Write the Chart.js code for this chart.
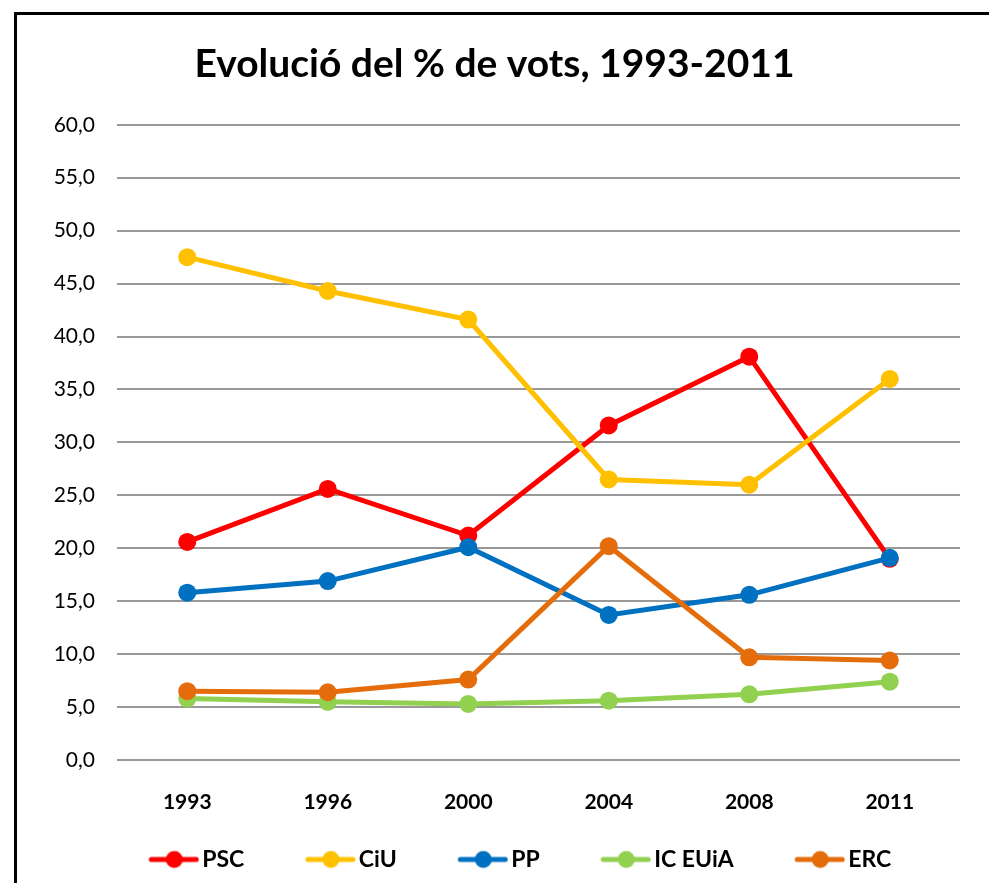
<!DOCTYPE html>
<html>
<head>
<meta charset="utf-8">
<script src="https://cdn.jsdelivr.net/npm/chart.js@4"></script>
<style>
	body { margin: 0; background: #fff; overflow: hidden; }
	#wrap { position: relative; width: 989px; height: 883px; }
	#frame { position: absolute; left: 14px; top: 12px; width: 1000px; height: 900px;
		border-left: 3px solid #000; border-top: 3px solid #000; pointer-events: none; }
</style>
</head>
<body>
<div id="wrap">
	<canvas id="chart" width="989" height="883"></canvas>
	<div id="frame"></div>
</div>
<script>
var years = ["1993", "1996", "2000", "2004", "2008", "2011"];
var psc = [20.6, 25.6, 21.2, 31.6, 38.1, 19.0];
var ciu = [47.5, 44.3, 41.6, 26.5, 26.0, 36.0];
var pp = [15.8, 16.9, 20.1, 13.7, 15.6, 19.1];
var icEuia = [5.8, 5.5, 5.3, 5.6, 6.2, 7.4];
var erc = [6.5, 6.4, 7.6, 20.2, 9.7, 9.4];

var seriesNames = ["PSC", "CiU", "PP", "IC EUiA", "ERC"];
var seriesColors = ["#FF0000", "#FFC000", "#0070C0", "#92D050", "#E46C0A"];
var seriesValues = [psc, ciu, pp, icEuia, erc];

var legendBox = 93;

// little line-with-dot picture used as legend marker
function legendMarker(color) {
	var c = document.createElement('canvas');
	c.width = legendBox + 17;
	c.height = 24;
	var g = c.getContext('2d');
	g.strokeStyle = color;
	g.fillStyle = color;
	g.lineWidth = 5;
	g.lineCap = 'round';
	g.beginPath();
	g.moveTo(c.width - 48, 12);
	g.lineTo(c.width - 3, 12);
	g.stroke();
	g.beginPath();
	g.arc(c.width - 25, 12, 8.5, 0, Math.PI * 2);
	g.fill();
	return c;
}

var datasets = seriesNames.map(function (name, i) {
	return {
		label: name,
		data: seriesValues[i],
		borderColor: seriesColors[i],
		backgroundColor: seriesColors[i],
		pointBackgroundColor: seriesColors[i],
		borderWidth: 5,
		pointRadius: 9,
		pointHoverRadius: 9,
		pointBorderWidth: 0,
		tension: 0,
		order: seriesNames.length - i
	};
});

var config = {
	type: 'line',
	data: {
		labels: years,
		datasets: datasets
	},
	options: {
		responsive: false,
		animation: false,
		layout: { padding: { left: 0, right: 0, top: 0, bottom: 2 } },
		plugins: {
			title: {
				display: true,
				text: 'Evolució del % de vots, 1993-2011',
				color: '#000',
				font: { family: 'Lato', size: 39, weight: 'bold', lineHeight: 1.2 },
				padding: { top: 41, bottom: 37 }
			},
			legend: {
				position: 'bottom',
				labels: {
					usePointStyle: true,
					pointStyleWidth: legendBox,
					padding: 10,
					color: '#000',
					font: { family: 'Lato', size: 23, weight: 'bold' },
					generateLabels: function (chart) {
						return chart.data.datasets.map(function (ds, i) {
							return {
								text: ds.label,
								pointStyle: legendMarker(ds.borderColor),
								fillStyle: ds.borderColor,
								strokeStyle: ds.borderColor,
								lineWidth: 0,
								fontColor: '#000',
								datasetIndex: i,
								hidden: false
							};
						});
					}
				}
			},
			tooltip: { enabled: false }
		},
		scales: {
			x: {
				offset: true,
				grid: { display: false, offset: true },
				border: { display: false },
				ticks: {
					color: '#000',
					padding: 22,
					font: { family: 'Lato', size: 21, weight: 'bold' }
				},
				afterFit: function (s) { s.height = 78; }
			},
			y: {
				min: 0,
				max: 60,
				grid: { color: '#999', lineWidth: 2, drawTicks: false },
				border: { display: false },
				ticks: {
					stepSize: 5,
					color: '#000',
					padding: 22,
					font: { family: 'Lato', size: 21 },
					callback: function (v) { return v.toFixed(1).replace('.', ','); }
				},
				afterFit: function (s) { s.width = 117; }
			},
			yRight: {
				position: 'right',
				grid: { display: false },
				border: { display: false },
				ticks: { display: false },
				afterFit: function (s) { s.width = 29; }
			}
		}
	}
};

window.onload = function () {
	window.myLine = new Chart(document.getElementById("chart"), config);
};
</script>
</body>
</html>
